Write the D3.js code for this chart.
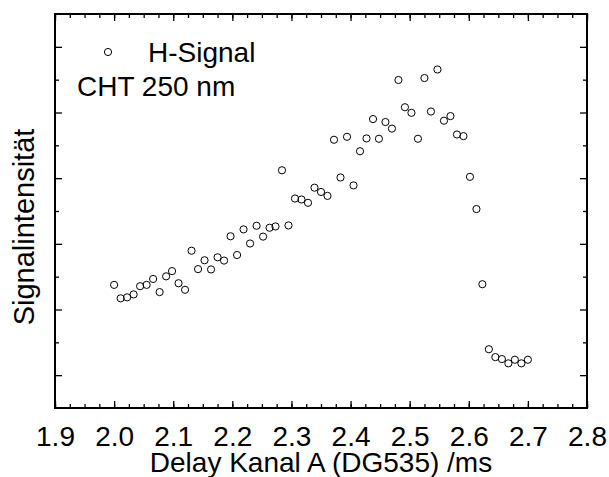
<!DOCTYPE html>
<html lang="de">
  <head>
    <meta charset="UTF-8" />
    <title>H-Signal CHT 250 nm</title>
    <script src="https://d3js.org/d3.v7.min.js"></script>
    <style>
      body {
        margin: 0;
        background: #fff;
        font-family: "Liberation Sans", Arial, sans-serif;
      }
      .tick line {
        stroke: #000;
        stroke-width: 1.3;
      }
    </style>
  </head>

  <body>
    <div id="chart"></div>
    <script>
      // delay (ms) and signal intensity (arb. units)
      const delay = [
        2.000, 2.011, 2.022, 2.033, 2.044, 2.055, 2.066, 2.077, 2.088, 2.098,
        2.109, 2.120, 2.131, 2.142, 2.153, 2.164, 2.175, 2.186, 2.197, 2.208,
        2.219, 2.230, 2.241, 2.252, 2.263, 2.273, 2.284, 2.295, 2.306, 2.317,
        2.328, 2.339, 2.350, 2.361, 2.372, 2.383, 2.394, 2.405, 2.416, 2.427,
        2.438, 2.448, 2.459, 2.470, 2.481, 2.492, 2.503, 2.514, 2.525, 2.536,
        2.547, 2.558, 2.569, 2.580, 2.591, 2.602, 2.613, 2.623, 2.634, 2.645,
        2.656, 2.667, 2.678, 2.689, 2.700
      ]
      const signal = [
        2.75, 2.34, 2.37, 2.46, 2.71, 2.75, 2.93, 2.53, 3.01, 3.17,
        2.80, 2.60, 3.79, 3.23, 3.50, 3.22, 3.59, 3.49, 4.23, 3.66,
        4.44, 4.01, 4.55, 4.22, 4.49, 4.53, 6.24, 4.56, 5.38, 5.35,
        5.25, 5.71, 5.58, 5.46, 7.17, 6.02, 7.26, 5.78, 6.82, 7.21,
        7.80, 7.20, 7.71, 7.51, 8.99, 8.16, 7.99, 7.20, 9.05, 8.03,
        9.31, 7.75, 7.89, 7.33, 7.28, 6.04, 5.06, 2.77, 0.79, 0.55,
        0.49, 0.36, 0.47, 0.36, 0.47
      ]
      const xMajorTicks = [1.9, 2.0, 2.1, 2.2, 2.3, 2.4, 2.5, 2.6, 2.7, 2.8]
      const xMinorTicks = d3.range(1.9, 2.8001, 0.025)
      const yMajorTicks = [0, 2, 4, 6, 8, 10]
      const yMinorTicks = [1, 3, 5, 7, 9]

      const W = 609, H = 477
      const margin = { top: 14, right: 22, bottom: 69, left: 55 }
      const width = W - margin.left - margin.right
      const height = H - margin.top - margin.bottom

      const svg = d3.select("#chart").append("svg")
        .attr("width", W)
        .attr("height", H)
      const g = svg.append("g")
        .attr("transform", `translate(${margin.left},${margin.top})`)

      const x = d3.scaleLinear().domain([1.9, 2.8]).range([0, width])
      const y = d3.scaleLinear().domain([-1, 11]).range([height, 0])

      const fmt = d3.format(".1f")

      function addAxis(axis, tr, labels) {
        const a = g.append("g").attr("transform", tr).call(axis)
        a.select(".domain").remove()
        if (!labels) a.selectAll("text").remove()
        return a
      }

      // bottom
      const bottom = addAxis(
        d3.axisBottom(x).tickValues(xMajorTicks).tickSize(-7).tickPadding(18).tickFormat(fmt),
        `translate(0,${height})`, true)
      bottom.selectAll("text")
        .attr("font-size", 28)
        .attr("font-family", "Liberation Sans, Arial, sans-serif")
        .attr("fill", "#000")
      addAxis(d3.axisBottom(x).tickValues(xMinorTicks).tickSize(-4), `translate(0,${height})`)
      // top
      addAxis(d3.axisTop(x).tickValues(xMajorTicks).tickSize(-7), "translate(0,0)")
      addAxis(d3.axisTop(x).tickValues(xMinorTicks).tickSize(-4), "translate(0,0)")
      // left
      addAxis(d3.axisLeft(y).tickValues(yMajorTicks).tickSize(-7), "translate(0,0)")
      addAxis(d3.axisLeft(y).tickValues(yMinorTicks).tickSize(-4), "translate(0,0)")
      // right
      addAxis(d3.axisRight(y).tickValues(yMajorTicks).tickSize(-7), `translate(${width},0)`)
      addAxis(d3.axisRight(y).tickValues(yMinorTicks).tickSize(-4), `translate(${width},0)`)

      g.append("rect")
        .attr("width", width)
        .attr("height", height)
        .attr("fill", "none")
        .attr("stroke", "#000")
        .attr("stroke-width", 2)

      g.selectAll(".dot")
        .data(delay.map((d, i) => ({ d, s: signal[i] })))
        .join("circle")
        .attr("class", "dot")
        .attr("cx", p => x(p.d))
        .attr("cy", p => y(p.s))
        .attr("r", 3.6)
        .attr("fill", "none")
        .attr("stroke", "#000")
        .attr("stroke-width", 1)

      // legend
      g.append("circle")
        .attr("cx", 53)
        .attr("cy", 38)
        .attr("r", 3.6)
        .attr("fill", "none")
        .attr("stroke", "#000")
        .attr("stroke-width", 1)
      g.append("text")
        .attr("x", 93)
        .attr("y", 48)
        .attr("font-size", 28)
        .text("H-Signal")
      g.append("text")
        .attr("x", 22)
        .attr("y", 82)
        .attr("font-size", 28)
        .text("CHT 250 nm")

      // axis titles
      svg.append("text")
        .attr("x", margin.left + width / 2)
        .attr("y", 472)
        .attr("text-anchor", "middle")
        .attr("font-size", 28)
        .text("Delay Kanal A (DG535) /ms")
      svg.append("text")
        .attr("transform", `translate(34,${margin.top + height / 2 + 16}) rotate(-90)`)
        .attr("text-anchor", "middle")
        .attr("font-size", 29)
        .text("Signalintensität")
    </script>
  </body>
</html>
